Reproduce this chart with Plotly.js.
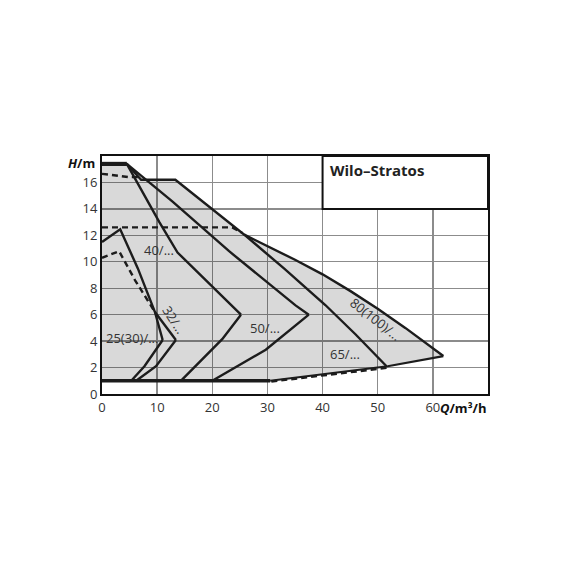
<!DOCTYPE html>
<html>
<head>
<meta charset="utf-8">
<script src="https://cdn.plot.ly/plotly-3.0.1.min.js"></script>
<style>
  html, body { margin: 0; padding: 0; background: #fff; }
  #chart { width: 570px; height: 570px; }
</style>
</head>
<body>
<div id="chart"></div>
<script>
// Q in m3/h, H in m
var topQ = [0, 4.5];
var topH = [17.4, 17.4];

// outer envelope 80(100)/... (65/... shares it down to the kink)
var outerQ = [0, 4.5, 7.1, 13.3, 25.8, 30, 35, 40, 45, 50, 55, 61.9];
var outerH = [17.4, 17.4, 16.2, 16.2, 12.05, 11.2, 10.15, 9.05, 7.8, 6.45, 5.0, 2.87];
var lowQ = [61.9, 51.8, 30.5];
var lowH = [2.87, 2.1, 1.0];

var c65Q = [25.8, 33, 40.5, 46, 51.6];
var c65H = [12.05, 9.5, 6.73, 4.5, 2.1];
var m65Q = [51.6, 30.5];
var m65H = [1.98, 0.94];

var c50Q = [4.5, 12.8, 23.05, 35.1, 37.5];
var c50H = [17.4, 14.55, 10.8, 6.7, 6.0];
var r50Q = [37.5, 29.7, 20.0];
var r50H = [6.0, 3.35, 1.0];

var c40Q = [4.5, 10.4, 13.7, 19.4, 25.2];
var c40H = [17.4, 13.0, 10.7, 8.4, 6.0];
var r40Q = [25.2, 21.8, 14.3];
var r40H = [6.0, 4.15, 1.0];

var c25Q = [0, 3.3, 6.5, 9.6, 11.0];
var c25H = [11.5, 12.45, 9.5, 6.2, 4.08];
var r25Q = [11.0, 7.7, 5.3];
var r25H = [4.08, 2.1, 1.0];

var c32Q = [9.6, 13.4];
var c32H = [6.2, 4.08];
var r32Q = [13.4, 9.8, 6.2];
var r32H = [4.08, 2.1, 1.0];

var baseQ = [0, 30.5];
var baseH = [1, 1];

// dashed curves
var d16Q = [0, 5.0, 6.6];
var d16H = [16.65, 16.4, 16.4];
var d12Q = [0, 23.6, 25.4];
var d12H = [12.6, 12.6, 12.2];
var d10Q = [0, 3.1, 6.0, 8.5, 9.6];
var d10H = [10.3, 10.8, 8.6, 6.9, 6.2];

var xTicks = [0, 10, 20, 30, 40, 50, 60];
var yTicks = [0, 2, 4, 6, 8, 10, 12, 14, 16];

var ink = '#1c1c1c';

function curve(q, h, w, dash) {
  return {
    x: q, y: h,
    type: 'scatter',
    mode: 'lines',
    line: { color: ink, width: w || 2.4, dash: dash || 'solid' },
    hoverinfo: 'skip',
    cliponaxis: false,
  };
}

// NOTE: grey area is the whole envelope, semi transparent so the grid shows through
var fillTrace = {
  x: [0].concat(outerQ, lowQ.slice(1), [0]),
  y: [1].concat(outerH, lowH.slice(1), [1]),
  type: 'scatter',
  mode: 'none',
  fill: 'toself',
  fillcolor: 'rgba(0,0,0,0.15)',
  hoverinfo: 'skip',
};

var dashed = '6px,4px';
var trace = [
  fillTrace,
  curve(outerQ, outerH),
  curve(lowQ, lowH, 2.2),
  curve(m65Q, m65H, 2.6, dashed),
  curve(c65Q, c65H),
  curve(c50Q, c50H),
  curve(r50Q, r50H),
  curve(c40Q, c40H),
  curve(r40Q, r40H),
  curve(c25Q, c25H),
  curve(r25Q, r25H),
  curve(c32Q, c32H),
  curve(r32Q, r32H),
  curve(d16Q, d16H, 2.4, dashed),
  curve(d12Q, d12H, 2.4, dashed),
  curve(d10Q, d10H, 2.4, dashed),
  curve(baseQ, baseH, 3.4),
  curve(topQ, topH, 4.2),
];

var labelFont = { family: 'Open Sans, sans-serif', size: 13, color: '#333' };

function label(text, q, h, angle) {
  return {
    x: q, y: h, xref: 'x', yref: 'y',
    text: text,
    showarrow: false,
    textangle: angle || 0,
    font: labelFont,
  };
}

var layout = {
  width: 570,
  height: 570,
  margin: { l: 102, r: 82, t: 156, b: 176 },
  paper_bgcolor: '#fff',
  plot_bgcolor: '#fff',
  showlegend: false,
  xaxis: {
    range: [0, 70],
    tickvals: xTicks,
    ticks: '',
    showgrid: true,
    gridcolor: '#8c8c8c',
    gridwidth: 1.3,
    zeroline: false,
    showline: true,
    mirror: true,
    linecolor: '#111',
    linewidth: 2,
    tickfont: { family: 'Open Sans, sans-serif', size: 13, color: '#333' },
    fixedrange: true,
  },
  yaxis: {
    range: [0, 18],
    tickvals: yTicks,
    ticks: '',
    showgrid: true,
    gridcolor: '#8c8c8c',
    gridwidth: 1.3,
    zeroline: false,
    showline: true,
    mirror: true,
    linecolor: '#111',
    linewidth: 2,
    tickfont: { family: 'Open Sans, sans-serif', size: 13, color: '#333' },
    fixedrange: true,
  },
  shapes: [
    {
      type: 'rect',
      xref: 'x', yref: 'y',
      x0: 40, x1: 70, y0: 14, y1: 18,
      fillcolor: '#fff',
      line: { color: '#111', width: 2 },
      layer: 'above',
    },
  ],
  annotations: [
    {
      x: 40, y: 18, xref: 'x', yref: 'y',
      xanchor: 'left', yanchor: 'top',
      xshift: 5, yshift: -2,
      text: '<b>Wilo–Stratos</b>',
      showarrow: false,
      font: { family: 'Open Sans, sans-serif', size: 15, color: '#222' },
    },
    {
      x: 0, y: 17.5, xref: 'paper', yref: 'y',
      xanchor: 'right', yanchor: 'middle',
      xshift: -5,
      text: '<b><i>H</i>/m</b>',
      showarrow: false,
      font: { family: 'Open Sans, sans-serif', size: 13, color: '#111' },
    },
    {
      x: 70, y: 0, xref: 'x', yref: 'paper',
      xanchor: 'right', yanchor: 'top',
      yshift: -3,
      text: '<b><i>Q</i>/m³/h</b>',
      showarrow: false,
      font: { family: 'Open Sans, sans-serif', size: 13, color: '#111' },
    },
    label('40/...', 10.4, 10.9),
    label('25(30)/...', 5.4, 4.2),
    label('32/...', 13.1, 5.6, 57),
    label('50/...', 29.5, 5.0),
    label('65/...', 44.0, 3.0),
    label('80(100)/...', 49.6, 5.7, 38),
  ],
};

Plotly.newPlot('chart', trace, layout, { displayModeBar: false, staticPlot: true });
</script>
</body>
</html>
